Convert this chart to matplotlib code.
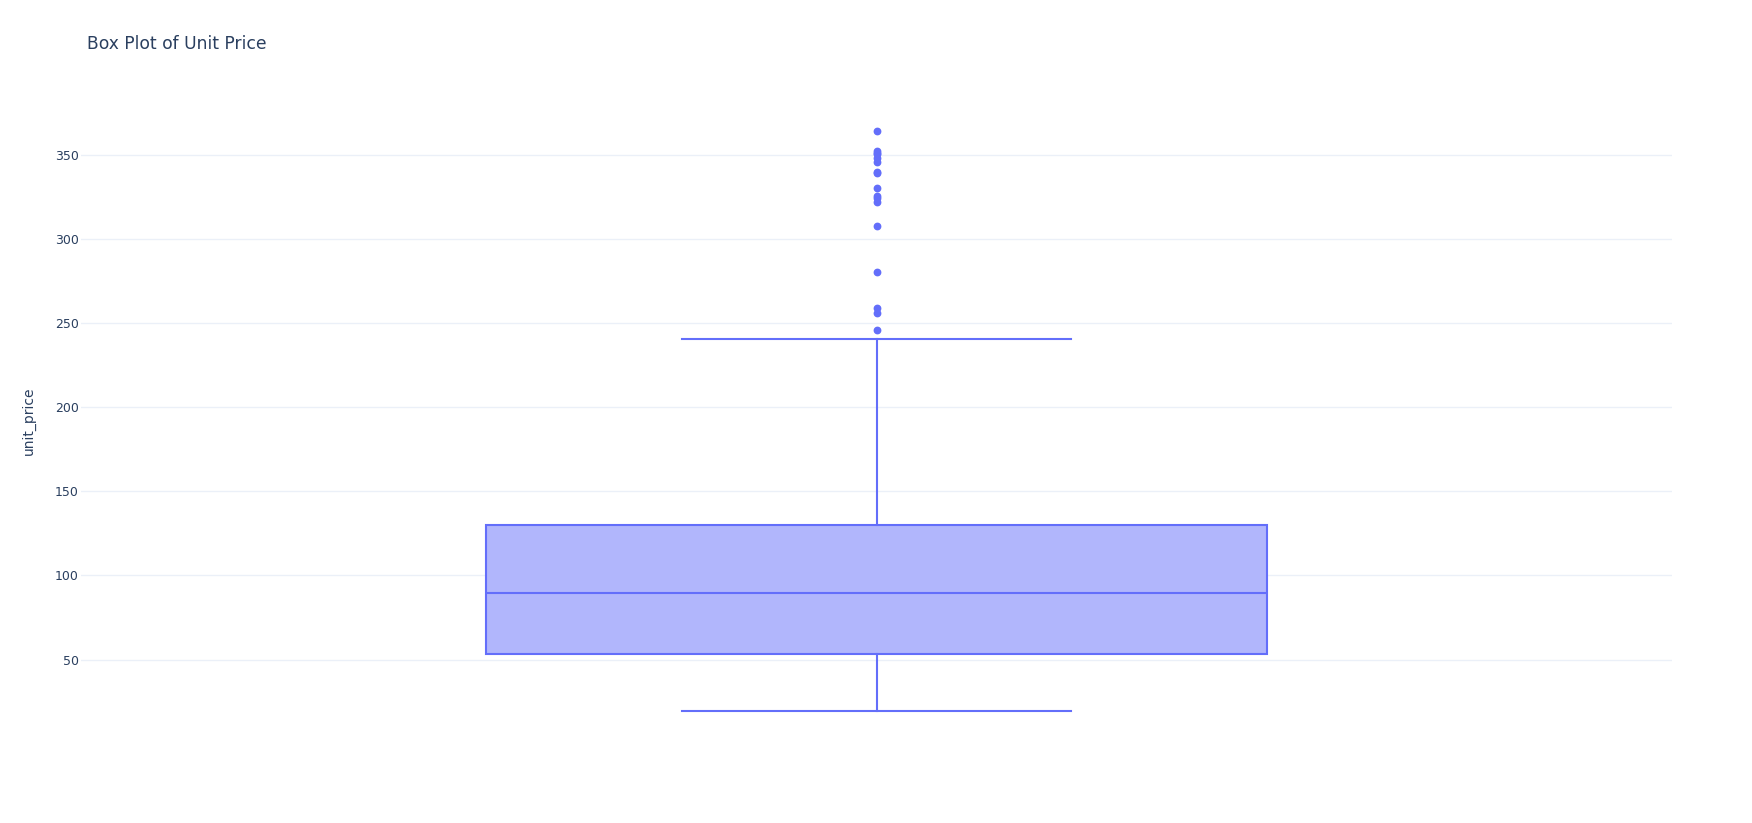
import matplotlib
matplotlib.use("Agg")
import matplotlib.pyplot as plt

# ---- data ----
category = ["unit_price"]
q1 = [53.5]
median = [89.8]
q3 = [129.7]
whisker_low = [19.5]
whisker_high = [240.6]
outliers = [363.8, 352.1, 350.8, 350.2, 348.2, 345.8, 339.8, 339.0, 330.0,
            325.4, 324.0, 322.1, 307.8, 280.5, 258.9, 255.7, 245.8]
y_ticks = [50, 100, 150, 200, 250, 300, 350]

W, H = 1752, 823
fig = plt.figure(figsize=(W / 100, H / 100), dpi=100)
fig.patch.set_facecolor("white")
left, right, top, bottom = 81, 1672, 99, 742
ax = fig.add_axes([left / W, 1 - bottom / H, (right - left) / W, (bottom - top) / H])
ax.set_facecolor("white")

line_c = "#636efa"
fill_c = "#b1b6fc"
text_c = "#2a3f5f"

stats = [dict(med=median[0], q1=q1[0], q3=q3[0], whislo=whisker_low[0],
              whishi=whisker_high[0], fliers=outliers, label=category[0])]
ax.bxp(stats, positions=[0], widths=0.491, patch_artist=True, showfliers=True,
       boxprops=dict(facecolor=fill_c, edgecolor=line_c, linewidth=1.5),
       medianprops=dict(color=line_c, linewidth=1.5),
       whiskerprops=dict(color=line_c, linewidth=1.5),
       capprops=dict(color=line_c, linewidth=1.5),
       capwidths=0.244,
       flierprops=dict(marker="o", markersize=4.6, markerfacecolor=line_c,
                       markeredgecolor=line_c, linestyle="none"),
       zorder=3)

ax.set_xlim(-0.5, 0.5)
ax.set_ylim(1, 383)
ax.set_xticks([])
ax.set_yticks(y_ticks)
ax.set_yticklabels([str(t) for t in y_ticks], fontsize=9, color=text_c,
                   family="DejaVu Sans")
ax.tick_params(axis="y", length=0, pad=1.5)
ax.grid(axis="y", color="#ebf0f8", linewidth=1, zorder=0)
ax.set_axisbelow(True)
for s in ax.spines.values():
    s.set_visible(False)

ax.set_ylabel("unit_price", fontsize=10, color=text_c, family="DejaVu Sans",
              va="center")
ax.yaxis.set_label_coords((29 - left) / (right - left), 0.5)

fig.text(87 / W, 1 - 44 / H, "Box Plot of Unit Price", fontsize=12.35,
         color=text_c, va="center", ha="left", family="DejaVu Sans")

fig.savefig("out.png", dpi=100, facecolor="white")
